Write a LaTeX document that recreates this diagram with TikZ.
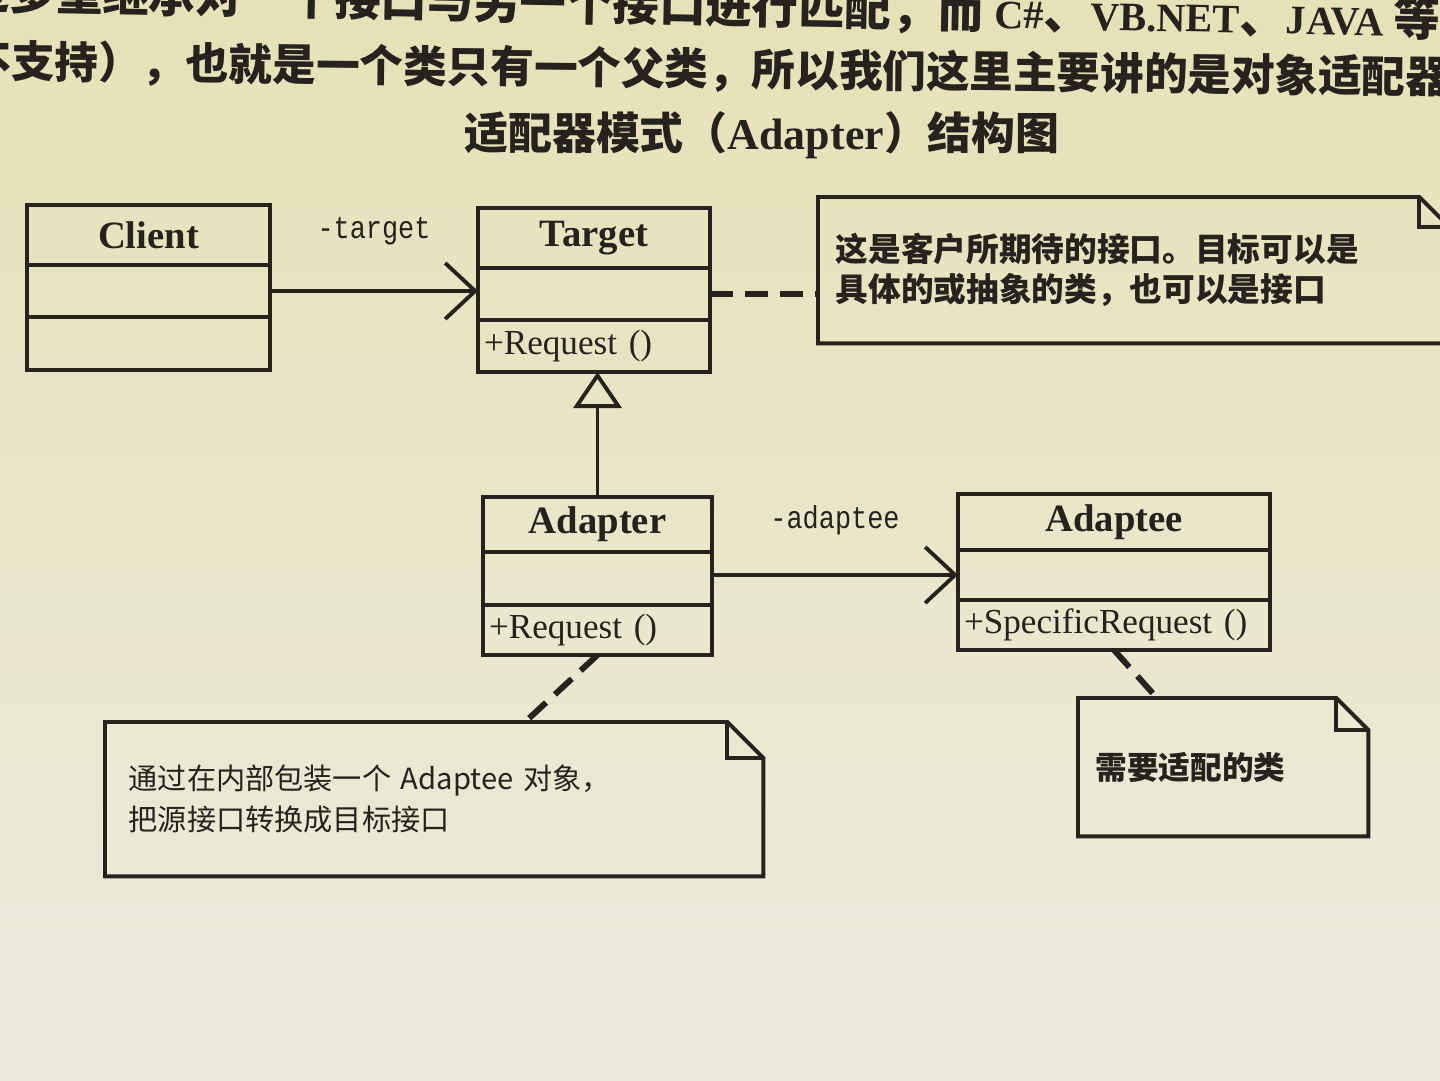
\documentclass[tikz,border=0pt]{standalone}
\usepackage{fontspec}
\setmainfont{Liberation Serif}
\newfontfamily\cjk{Noto Sans CJK SC}
\newfontfamily\umlmono[FakeStretch=0.85]{Liberation Mono}
\usepackage{xcolor}
\usetikzlibrary{arrows.meta,positioning}
\definecolor{ink}{RGB}{38,34,30}
\definecolor{paperTop}{RGB}{230,225,182}
\definecolor{paperBot}{RGB}{236,235,221}

\begin{document}
\begin{tikzpicture}[
  x=0.1mm,y=0.1mm,
  umlpart/.style={draw=ink,line width=1.1pt,inner xsep=0.6mm,inner ysep=0pt,outer sep=0pt,align=center,text=ink},
  cname/.style={umlpart,font=\fontsize{11}{12}\selectfont\bfseries},
  cmember/.style={umlpart,align=left,font=\fontsize{10}{11}\selectfont},
  note/.style={inner ysep=0pt,align=left,anchor=north west,text=ink},
  notebox/.style={draw=ink,line width=1.1pt,line join=miter},
  role/.style={font=\umlmono\fontsize{9}{10}\selectfont,text=ink},
  assoc/.style={draw=ink,line width=1.1pt,-{Straight Barb[length=3mm,width=5.6mm,line width=1.1pt]}},
  inherit/.style={draw=ink,line width=1.1pt,-{Triangle[open,length=3.6mm,width=4.8mm,line width=1.1pt]}},
  anchorlink/.style={draw=ink,line width=1.7pt,dash pattern=on 2.3mm off 1.2mm}]
\clip (0,0) rectangle (1440,1080);
\shade[top color=paperTop,bottom color=paperBot] (0,0) rectangle (1440,1080);
% heading text
\node[anchor=west,inner sep=0pt,rotate=-1.1,text=ink,font=\cjk\bfseries\fontsize{13.2}{14}\selectfont] (introa) at (-37,1088)
  {过多重继承对一个接口与另一个接口进行匹配，而 {\rmfamily\fontsize{11.5}{12}\selectfont C\#}、{\rmfamily\fontsize{11.5}{12}\selectfont VB.NET}、{\rmfamily\fontsize{11.5}{12}\selectfont JAVA} 等语};
\node[anchor=west,inner sep=0pt,rotate=-0.6,text=ink,font=\cjk\bfseries\fontsize{12.4}{13}\selectfont] (introb) at (-33,1018)
  {不支持），也就是一个类只有一个父类，所以我们这里主要讲的是对象适配器};
\node[inner sep=0pt,text=ink,font=\cjk\bfseries\fontsize{12.5}{14}\selectfont] (title) at (762,945)
  {适配器模式（{\rmfamily Adapter}）结构图};
% classes
\node[cname,text width=23.1mm,minimum height=6mm,anchor=north west] (cliname) at (27,875) {Client};
\node[umlpart,text width=23.1mm,minimum height=5.2mm,below=0pt of cliname] (cliattr) {};
\node[umlpart,text width=23.1mm,minimum height=5.3mm,below=0pt of cliattr] (cliops) {};
\node[cname,text width=22mm,minimum height=6mm,anchor=north west] (tgtname) at (478,872) {Target};
\node[umlpart,text width=22mm,minimum height=5.2mm,below=0pt of tgtname] (tgtattr) {};
\node[cmember,text width=22mm,minimum height=5.2mm,below=0pt of tgtattr] (tgtops) {+Request ()};
\node[cname,text width=21.7mm,minimum height=5.5mm,anchor=north west] (adpname) at (483,583) {Adapter};
\node[umlpart,text width=21.7mm,minimum height=5.3mm,below=0pt of adpname] (adpattr) {};
\node[cmember,text width=21.7mm,minimum height=5mm,below=0pt of adpattr] (adpops) {+Request ()};
\node[cname,text width=30mm,minimum height=5.6mm,anchor=north west] (adename) at (958,586) {Adaptee};
\node[umlpart,text width=30mm,minimum height=5mm,below=0pt of adename] (adeattr) {};
\node[cmember,text width=30mm,minimum height=5mm,below=0pt of adeattr] (adeops) {+SpecificRequest ()};
% notes
\node[note,inner xsep=1.7mm,text width=59.6mm,minimum height=14.5mm,font=\cjk\bfseries\fontsize{9.3}{11.4}\selectfont] (note1) at (818,883)
  {这是客户所期待的接口。目标可以是\\具体的或抽象的类，也可以是接口};
\node[note,inner xsep=2.3mm,text width=61.1mm,minimum height=15.3mm,font=\cjk\fontsize{8.3}{11.7}\selectfont] (note2) at (105,358)
  {通过在内部包装一个 Adaptee 对象，\\把源接口转换成目标接口};
\node[note,inner xsep=1.7mm,text width=25.5mm,minimum height=13.7mm,font=\cjk\bfseries\fontsize{9}{11}\selectfont] (note3) at (1078,382)
  {需要适配的类};
\draw[notebox] (note1.north west) -- ([xshift=-3mm]note1.north east) -- ([yshift=-3mm]note1.north east) -- (note1.south east) -- (note1.south west) -- cycle;
\draw[notebox] ([xshift=-3mm]note1.north east) |- ([yshift=-3mm]note1.north east);
\draw[notebox] (note2.north west) -- ([xshift=-3.6mm]note2.north east) -- ([yshift=-3.6mm]note2.north east) -- (note2.south east) -- (note2.south west) -- cycle;
\draw[notebox] ([xshift=-3.6mm]note2.north east) |- ([yshift=-3.6mm]note2.north east);
\draw[notebox] (note3.north west) -- ([xshift=-3.2mm]note3.north east) -- ([yshift=-3.2mm]note3.north east) -- (note3.south east) -- (note3.south west) -- cycle;
\draw[notebox] ([xshift=-3.2mm]note3.north east) |- ([yshift=-3.2mm]note3.north east);
% connectors
\draw[assoc] (cliattr.east) -- node[role,midway,above=3.2mm] {-target} (cliattr.east -| tgtattr.west);
\draw[assoc] (adeattr.west -| adpattr.east) -- node[role,midway,above=2.6mm] {-adaptee} (adeattr.west);
\draw[inherit] (adpname.north) -- (adpname.north |- tgtops.south);
\draw[anchorlink] (tgtattr.east) -- (tgtattr.east -| note1.west);
\draw[anchorlink] (adpops.south) -- ([xshift=42mm]note2.north west);
\draw[anchorlink] (adeops.south) -- ([xshift=7.9mm]note3.north west);
\end{tikzpicture}
\end{document}
